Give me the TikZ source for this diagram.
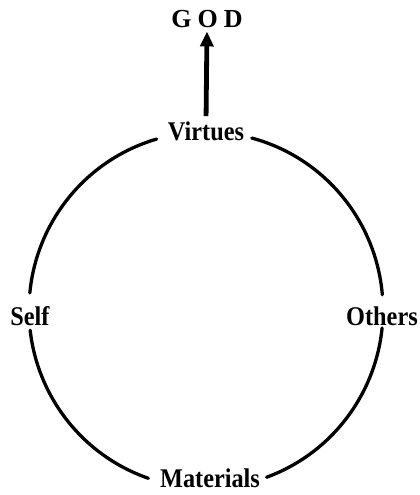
\documentclass[tikz,border=0pt]{standalone}
\usepackage{fontspec}
\setmainfont{Liberation Serif}
\newfontfamily\lblfont[FakeStretch=0.9]{Liberation Serif}
\usetikzlibrary{arrows.meta}
\begin{document}
\begin{tikzpicture}[x=1pt,y=1pt,
  lbl/.style={font=\lblfont\bfseries\fontsize{27}{32}\selectfont, inner sep=0pt, anchor=base},
  ring/.style={line width=3.3pt, line cap=round},
  up/.style={line width=4.8pt, -{Triangle[length=15pt,width=13pt]}}]
\useasboundingbox (0,0) rectangle (420,495);
\coordinate (c) at (206,185);
\node[lbl] (virt) at (206,354) {Virtues};
\node[lbl, font=\bfseries\fontsize{26}{30}\selectfont] (god) at (207,467) {G\kern6pt O\kern6pt D};
\node[lbl] (self) at (30,169) {Self};
\node[lbl] (oth) at (382,169) {Others};
\node[lbl] (mat) at (210,7) {Materials};
\draw[ring] (c) ++(4.9:177 and 178) arc[start angle=4.9, end angle=75, x radius=177, y radius=178];
\draw[ring] (c) ++(106.2:177 and 178) arc[start angle=106.2, end angle=174.5, x radius=177, y radius=178];
\draw[ring] (c) ++(186.5:177 and 178) arc[start angle=186.5, end angle=251, x radius=177, y radius=178];
\draw[ring] (c) ++(290:177 and 178) arc[start angle=290, end angle=354.2, x radius=177, y radius=178];
\draw[up, shorten <=6pt, shorten >=3pt] (virt.north) -- (god.south);
\end{tikzpicture}
\end{document}
